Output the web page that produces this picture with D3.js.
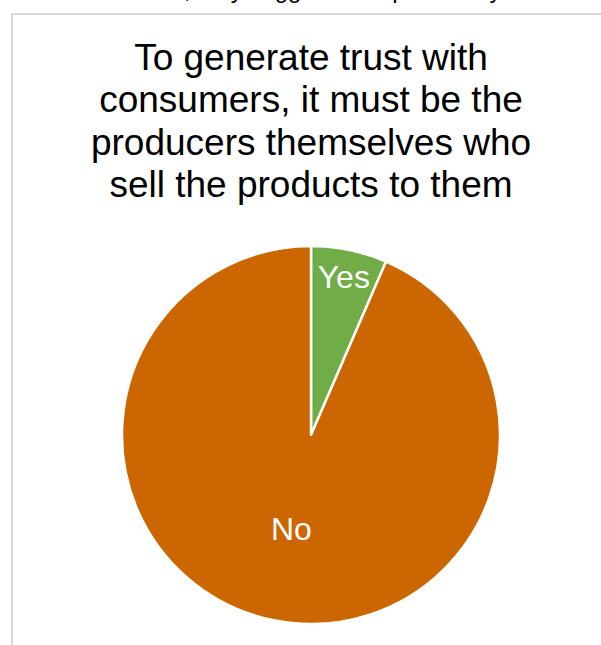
<!DOCTYPE html>
<html>
<head>
<meta charset="utf-8">
<script src="https://cdn.jsdelivr.net/npm/d3@7"></script>
<style>
  html, body { margin: 0; padding: 0; background: #fff; }
  svg { display: block; font-family: "Liberation Sans", Arial, sans-serif; }
</style>
</head>
<body>
<svg id="chart" width="601" height="645"></svg>
<script>
// Survey answers (share of respondents)
const categories = ["Yes", "No"];
const values = [6.5, 93.5];
const sliceColors = ["#70ad47", "#cc6600"];
const titleLines = [
  "To generate trust with",
  "consumers, it must be the",
  "producers themselves who",
  "sell the products to them"
];
const precedingText = ", they suggest it be personally";

const W = 601, H = 645;
const svg = d3.select("#chart");

// Tail end of the sentence above the chart frame
svg.append("text")
  .attr("x", 184).attr("y", -2)
  .attr("font-size", 24)
  .attr("fill", "#000")
  .text(precedingText);

// Chart frame, running past the right and bottom edges
svg.append("rect")
  .attr("x", 12).attr("y", 14)
  .attr("width", W + 20).attr("height", H + 20)
  .attr("fill", "#fff")
  .attr("stroke", "#d9d9d9")
  .attr("stroke-width", 2);

const cx = 311, cy = 435, R = 189;

// Title
const title = svg.append("text")
  .attr("text-anchor", "middle")
  .attr("font-size", 37)
  .attr("fill", "#000");
title.selectAll("tspan")
  .data(titleLines)
  .join("tspan")
  .attr("x", cx)
  .attr("y", (d, i) => 70 + i * 42.4)
  .text(d => d);

const data = categories.map((c, i) => ({ category: c, value: values[i], color: sliceColors[i] }));

const pie = d3.pie()
  .value(d => d.value)
  .sort(null);

const arcs = pie(data);
const arc = d3.arc().innerRadius(0).outerRadius(R);

const g = svg.append("g").attr("transform", `translate(${cx},${cy})`);

g.selectAll("path.slice")
  .data(arcs)
  .join("path")
  .attr("class", "slice")
  .attr("d", arc)
  .attr("fill", d => d.data.color)
  .attr("stroke", "#fff")
  .attr("stroke-width", 2.5)
  .attr("stroke-linejoin", "round");

// Narrow slices get their label near the rim, wide ones nearer the middle
function labelRadius(d) {
  const span = d.endAngle - d.startAngle;
  return span < Math.PI / 3 ? R * 0.855 : R * 0.51;
}

g.selectAll("text.label")
  .data(arcs)
  .join("text")
  .attr("class", "label")
  .attr("text-anchor", "middle")
  .attr("dominant-baseline", "central")
  .attr("font-size", 32)
  .attr("fill", "#fff")
  .attr("transform", d => {
    const a = (d.startAngle + d.endAngle) / 2;
    const r = labelRadius(d);
    return `translate(${r * Math.sin(a)},${-r * Math.cos(a)})`;
  })
  .text(d => d.data.category);
</script>
</body>
</html>
